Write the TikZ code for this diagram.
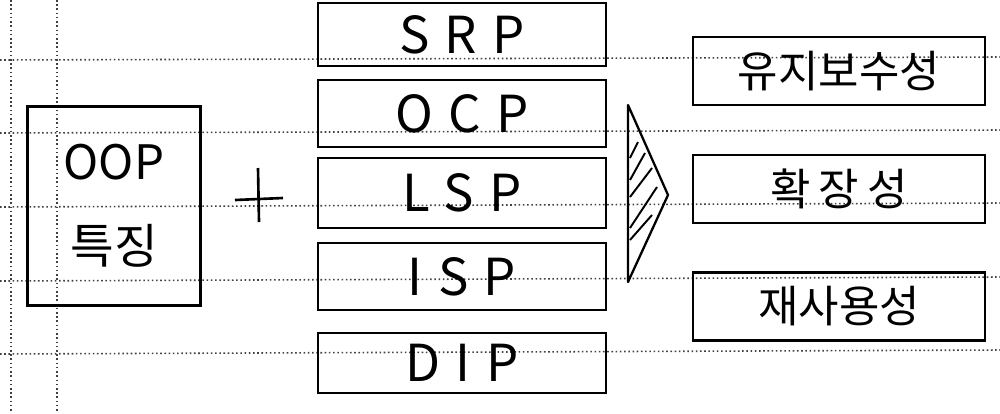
\documentclass[tikz,border=0pt]{standalone}
\usepackage{fontspec}
\setmainfont{Noto Sans CJK KR}
\newfontfamily\widefont[LetterSpace=30]{Noto Sans CJK KR}
\usetikzlibrary{positioning}

\begin{document}
\begin{tikzpicture}[
    x=0.02cm, y=-0.02cm,
    ink/.style={line width=1.3pt,black},
    rule/.style={line width=0.9pt,black!75,dash pattern=on 0.9pt off 1.5pt},
    featbox/.style={draw,ink,minimum width=3.46cm,minimum height=3.98cm,
                    font=\fontsize{27}{48}\selectfont,align=center},
    princ/.style={draw,ink,minimum width=5.76cm,minimum height=#1,
                  font=\widefont\fontsize{29}{30}\selectfont},
    gain/.style={draw,ink,minimum width=5.84cm,minimum height=1.36cm,
                 font=\fontsize{25}{26}\selectfont}]

    \useasboundingbox (0,0) rectangle (1000,413);

    % paper rules
    \foreach \yl/\yr in {60/57,133/130,207/203,281/277,354/350}
      \draw[rule] (0,\yl) -- (1000,\yr);
    \foreach \xv in {11,57}
      \draw[rule] (\xv,0) -- (\xv,413);

    % OOP
    \node[featbox] (oop) at (114,206) {OOP\\특징};

    % plus
    \draw[ink,line width=1.5pt] (235,200) -- (283,198);
    \draw[ink,line width=1.5pt] (258,168) -- (259,222);

    % SOLID
    \node[princ=1.26cm] (srp) at (462,34.5) {SRP};
    \node[princ=1.34cm] (ocp) at (462,113.5) {OCP};
    \node[princ=1.40cm] (lsp) at (462,193) {LSP};
    \node[princ=1.34cm] (isp) at (462,276.5) {ISP};
    \node[princ=1.20cm] (dip) at (462,363) {DIP};

    % arrow
    \coordinate (tt) at (628,105);
    \coordinate (tp) at (668,195);
    \coordinate (tb) at (628,282);
    \draw[ink,line join=round] (tt) -- (tp) -- (tb) -- cycle;
    \foreach \ya/\xb/\yb in {158/638/142,180/645/153,197/652/168,228/657/187,240/652/215}
      \draw[ink,line width=1.1pt] (630,\ya) -- (\xb,\yb);

    % results
    \node[gain] (keep)  at (839,71)    {유지보수성};
    \node[gain] (ext)   at (839,189)   {\addfontfeatures{LetterSpace=18}확장성};
    \node[gain] (reuse) at (839,306.5) {재사용성};
\end{tikzpicture}
\end{document}
